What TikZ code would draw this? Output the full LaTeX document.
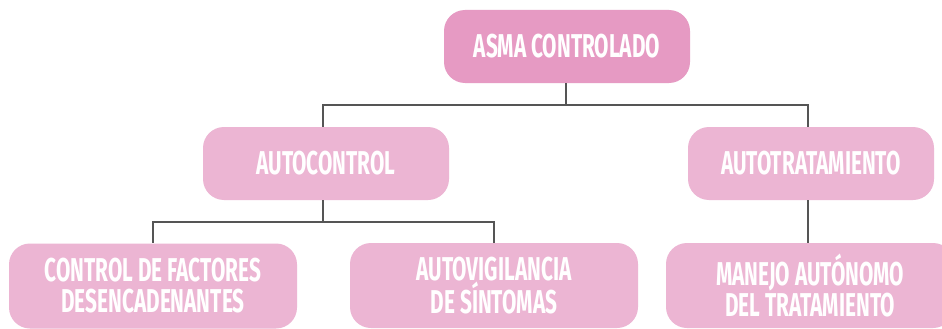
\documentclass[tikz,border=0pt]{standalone}
\usepackage{fontspec}
\setmainfont[FakeStretch=0.63]{Fira Sans Bold}
\definecolor{rootpink}{HTML}{E69AC3}
\definecolor{boxpink}{HTML}{ECB5D3}
\definecolor{linegray}{HTML}{555555}
\begin{document}
\begin{tikzpicture}[x=1pt,y=-1pt,
  boxbase/.style={rounded corners=21pt, inner sep=0pt, align=center, text=white,
    font=\fontsize{33}{31}\selectfont},
  toplevel/.style={boxbase, fill=rootpink, minimum width=246pt, minimum height=73pt},
  midlevel/.style={boxbase, fill=boxpink, minimum width=246pt, minimum height=73pt},
  lowlevel/.style={boxbase, fill=boxpink, minimum width=288pt, minimum height=85pt},
  conn/.style={draw=linegray, line width=1.5pt}]
\useasboundingbox (0,0) rectangle (942,329);
\clip (0,0) rectangle (942,329);
\fill[white] (0,0) rectangle (942,329);
\node[toplevel] (root) at (567,46.5) {\raisebox{-4pt}{ASMA CONTROLADO}};
\node[midlevel] (ac) at (326,163.5) {\raisebox{-4pt}{AUTOCONTROL}};
\node[midlevel] (at) at (811,163.5) {\raisebox{-3pt}{AUTOTRATAMIENTO}};
\node[lowlevel] (b1) at (153,286) {\raisebox{-6pt}{\parbox{280pt}{\centering CONTROL DE FACTORES\\DESENCADENANTES}}};
\node[lowlevel] (b2) at (494,285.5) {\raisebox{-6pt}{\parbox{280pt}{\centering AUTOVIGILANCIA\\DE SÍNTOMAS}}};
\node[lowlevel] (b3) at (810,285.5) {\raisebox{-6pt}{\parbox{280pt}{\centering MANEJO AUTÓNOMO\\DEL TRATAMIENTO}}};
\coordinate (rsplit) at (566,105);
\coordinate (asplit) at (323,222);
\draw[conn] (root.south -| rsplit) -- (rsplit);
\draw[conn] (rsplit) -| ([xshift=-3pt]ac.north);
\draw[conn] (rsplit) -| ([xshift=-3pt]at.north);
\draw[conn] ([xshift=-3pt]ac.south) -- (asplit);
\draw[conn] (asplit) -| (b1.north);
\draw[conn] (asplit) -| (b2.north);
\draw[conn] ([xshift=-3pt]at.south) -- ([xshift=-3pt]at.south |- b3.north);
\end{tikzpicture}
\end{document}
